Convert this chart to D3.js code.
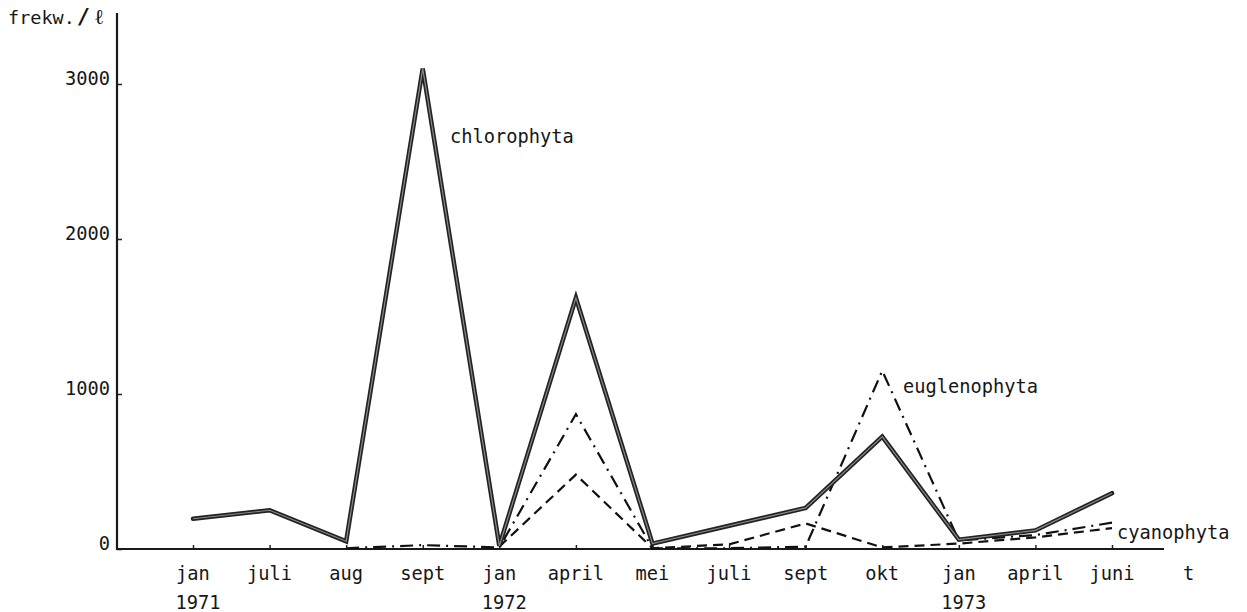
<!DOCTYPE html>
<html>
<head>
<meta charset="utf-8">
<script src="https://cdn.jsdelivr.net/npm/d3@7/dist/d3.min.js"></script>
<style>
  html, body { margin: 0; padding: 0; background: #fff; }
  svg { display: block; }
  text { font-family: "DejaVu Sans Mono", monospace; fill: #161616; }
</style>
</head>
<body>
<script>
// Sampling moments (month labels) and the year written under them
const months = ["jan", "juli", "aug", "sept", "jan", "april", "mei", "juli", "sept", "okt", "jan", "april", "juni"];
const years = ["1971", "", "", "", "1972", "", "", "", "", "", "1973", "", ""];

// Frequency per litre for each algal group (null = not sampled)
const chlorophyta = [195, 250, 50, 3100, 20, 1620, 35, 150, 265, 725, 60, 120, 360];
const euglenophyta = [null, null, 5, 25, 10, 870, 5, 5, 15, 1150, 55, 90, 170];
const cyanophyta = [null, null, null, null, 15, 480, 5, 30, 165, 10, 35, 75, 135];

const yTicks = [0, 1000, 2000, 3000];

const W = 1247, H = 612;
const svg = d3.select("body").append("svg").attr("width", W).attr("height", H);

const idx = months.map((_, i) => i);
const x = d3.scalePoint().domain(idx).range([193, 1112]);
const y = d3.scaleLinear().domain([0, 3000]).range([549, 84]);
const x0 = 117;
const fs = "18.7px";

// axes
const yAxis = d3.axisLeft(y).tickValues(yTicks).tickSize(-5).tickPadding(0).tickFormat(d3.format("d"));
const gy = svg.append("g").attr("transform", `translate(${x0},0)`).call(yAxis);
gy.select(".domain").remove();
gy.selectAll(".tick line").attr("stroke", "#222").attr("stroke-width", 1.5);
gy.selectAll(".tick text")
  .attr("x", -7).attr("dy", "0.05em")
  .style("font-size", fs).attr("fill", "#161616");

const xAxis = d3.axisBottom(x).tickSize(-4).tickPadding(0).tickFormat(() => "");
const gx = svg.append("g").attr("transform", `translate(0,${y(0)})`).call(xAxis);
gx.select(".domain").remove();
gx.selectAll(".tick line").attr("stroke", "#222").attr("stroke-width", 1.5);

// axis lines drawn a bit past the data range
svg.append("line").attr("x1", x0).attr("x2", x0).attr("y1", 13).attr("y2", y(0) + 1)
  .attr("stroke", "#1a1a1a").attr("stroke-width", 2.2);
svg.append("line").attr("x1", x0).attr("x2", 1164).attr("y1", y(0)).attr("y2", y(0))
  .attr("stroke", "#1a1a1a").attr("stroke-width", 2.2);

// month and year labels
const lab = svg.append("g").style("font-size", fs);
lab.selectAll("text.m").data(idx).join("text").attr("class", "m")
  .attr("x", i => x(i)).attr("y", 580).attr("text-anchor", "middle").text(i => months[i]);
lab.selectAll("text.yr").data(idx.filter(i => years[i])).join("text").attr("class", "yr")
  .attr("x", i => x(i) + 5).attr("y", 609).attr("text-anchor", "middle").text(i => years[i]);
lab.append("text").attr("x", x(12) + x.step()).attr("y", 580).attr("text-anchor", "middle").text("t");

// y-axis title
const tt = svg.append("text").attr("x", 8).attr("y", 24).style("font-size", "18.5px");
tt.append("tspan").text("frekw.");
tt.append("tspan").attr("dx", 2).style("font-size", "22px").style("font-weight", "bold").text("/");
tt.append("tspan").attr("dx", 4).style("font-size", "21px").text("ℓ");

const line = d3.line().defined(d => d.v !== null).x(d => x(d.i)).y(d => y(d.v));
const pts = arr => arr.map((v, i) => ({ i, v }));

// cyanophyta: dashed
svg.append("path").datum(pts(cyanophyta)).attr("d", line)
  .attr("fill", "none").attr("stroke", "#111").attr("stroke-width", 2.2)
  .attr("stroke-dasharray", "10,6");

// euglenophyta: dash-dot
svg.append("path").datum(pts(euglenophyta)).attr("d", line)
  .attr("fill", "none").attr("stroke", "#111").attr("stroke-width", 2.2)
  .attr("stroke-dasharray", "13,6,2,6");

// chlorophyta: heavy solid line with a lighter core
svg.append("path").datum(pts(chlorophyta)).attr("d", line)
  .attr("fill", "none").attr("stroke", "#222").attr("stroke-width", 4.5)
  .attr("stroke-linejoin", "miter").attr("stroke-linecap", "round");
svg.append("path").datum(pts(chlorophyta)).attr("d", line)
  .attr("fill", "none").attr("stroke", "#8a8a8a").attr("stroke-width", 1.2)
  .attr("stroke-linejoin", "miter");

// series names
const nm = svg.append("g").style("font-size", fs);
nm.append("text").attr("x", 450).attr("y", 143).text("chlorophyta");
nm.append("text").attr("x", 903).attr("y", 393).text("euglenophyta");
nm.append("text").attr("x", 1117).attr("y", 539).text("cyanophyta");
</script>
</body>
</html>
